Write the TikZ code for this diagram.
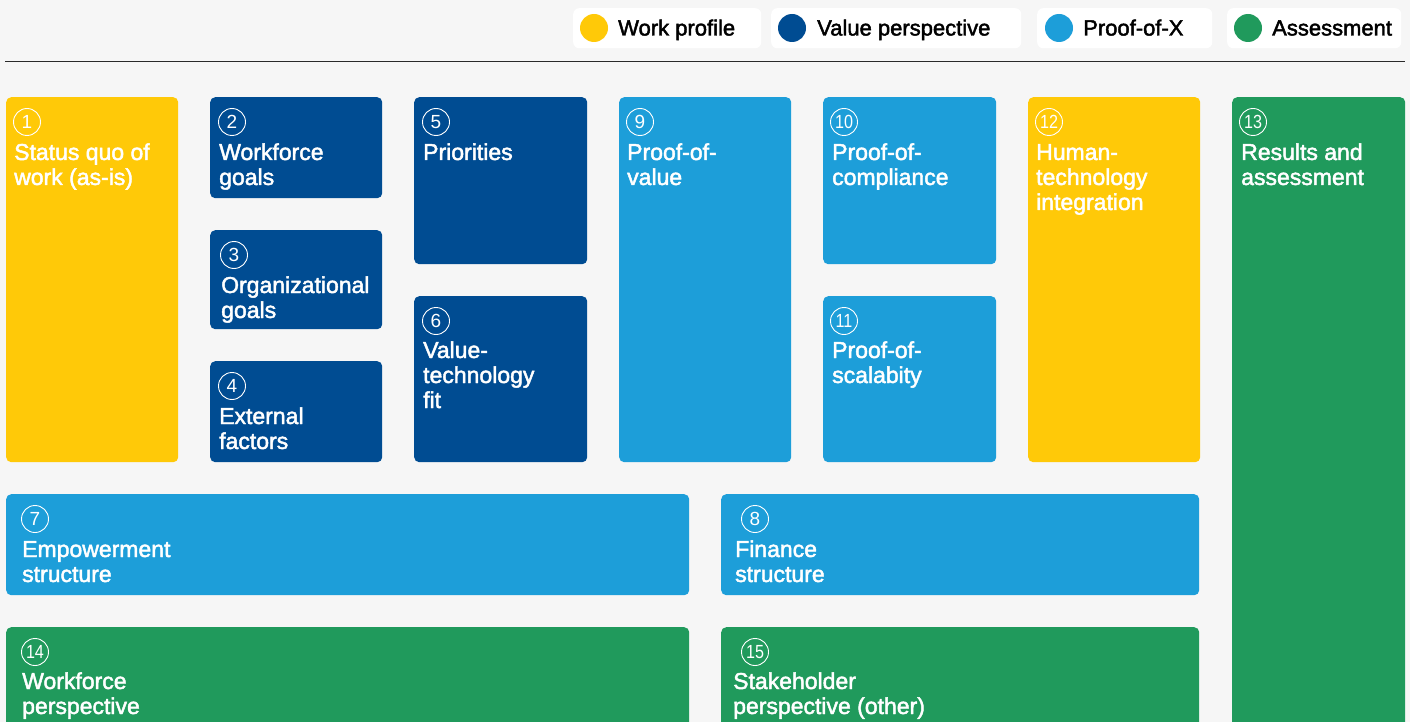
\documentclass[tikz,border=0pt]{standalone}
\usepackage{fontspec}
\setmainfont{Liberation Sans}
\newfontfamily\medfont[FakeBold=2]{Liberation Sans}
\definecolor{bgc}{HTML}{F6F6F6}
\definecolor{cY}{HTML}{FFC908}
\definecolor{cD}{HTML}{004C92}
\definecolor{cL}{HTML}{1D9ED9}
\definecolor{cG}{HTML}{209A5C}
\definecolor{lineC}{HTML}{2A2A2A}
\begin{document}
\begin{tikzpicture}[x=1pt,y=-1pt,
  box/.style={anchor=north west, rounded corners=5pt, inner sep=0pt, draw=none},
  num/.style={circle, draw=white, line width=0.9pt, minimum size=27pt, inner sep=0pt, text=white, font=\fontsize{19}{19}\selectfont},
  lbl/.style={anchor=base west, inner sep=0pt, text=white, font=\medfont\fontsize{23}{25}\selectfont},
  pill/.style={anchor=north west, fill=white, rounded corners=6pt, inner sep=0pt},
  dot/.style={circle, minimum size=28pt, inner sep=0pt},
  legtxt/.style={anchor=base west, inner sep=0pt, text=black, font=\medfont\fontsize{22}{24}\selectfont}]
\fill[bgc] (0,0) rectangle (1410,722);
\useasboundingbox (0,0) rectangle (1410,722);
\clip (0,0) rectangle (1410,722);
% legend
\node[pill, minimum width=188pt, minimum height=40pt] (p1) at (573,8) {};
\node[pill, minimum width=250pt, minimum height=40pt] (p2) at (771,8) {};
\node[pill, minimum width=175pt, minimum height=40pt] (p3) at (1037,8) {};
\node[pill, minimum width=174pt, minimum height=40pt] (p4) at (1227,8) {};
\node[dot, fill=cY] (d1) at (594,28) {};
\node[dot, fill=cD] (d2) at (792,28) {};
\node[dot, fill=cL] (d3) at (1059,28) {};
\node[dot, fill=cG] (d4) at (1248,28) {};
\node[legtxt] (l1) at (618,35.5) {Work profile};
\node[legtxt] (l2) at (817,35.5) {Value perspective};
\node[legtxt] (l3) at (1083,35.5) {Proof-of-X};
\node[legtxt] (l4) at (1272,35.5) {Assessment};
% rule
\coordinate (r1) at (5,61.5);
\coordinate (r2) at (1405,61.5);
\draw[lineC, line width=1.3pt] (r1) -- (r2);
% boxes
\node[box, fill=cY, minimum width=172pt, minimum height=365pt] (b1) at (6,97) {};
\node[box, fill=cD, minimum width=172pt, minimum height=101pt] (b2) at (210,97) {};
\node[box, fill=cD, minimum width=172pt, minimum height=99pt] (b3) at (210,230) {};
\node[box, fill=cD, minimum width=172pt, minimum height=101pt] (b4) at (210,361) {};
\node[box, fill=cD, minimum width=173pt, minimum height=167pt] (b5) at (414,97) {};
\node[box, fill=cD, minimum width=173pt, minimum height=166pt] (b6) at (414,296) {};
\node[box, fill=cL, minimum width=172pt, minimum height=365pt] (b9) at (619,97) {};
\node[box, fill=cL, minimum width=173pt, minimum height=167pt] (b10) at (823,97) {};
\node[box, fill=cL, minimum width=173pt, minimum height=166pt] (b11) at (823,296) {};
\node[box, fill=cY, minimum width=172pt, minimum height=365pt] (b12) at (1028,97) {};
\node[box, fill=cG, minimum width=173pt, minimum height=660pt] (b13) at (1232,97) {};
\node[box, fill=cL, minimum width=683pt, minimum height=101pt] (b7) at (6,494) {};
\node[box, fill=cL, minimum width=478pt, minimum height=101pt] (b8) at (721,494) {};
\node[box, fill=cG, minimum width=683pt, minimum height=140pt] (b14) at (6,627) {};
\node[box, fill=cG, minimum width=478pt, minimum height=140pt] (b15) at (721,627) {};
% numbers
\node[num] (n1) at (27,122) {1};
\node[num] (n2) at (232,122) {2};
\node[num] (n3) at (234,255) {3};
\node[num] (n4) at (232,386) {4};
\node[num] (n5) at (436,122) {5};
\node[num] (n6) at (436,321) {6};
\node[num] (n9) at (640,122) {9};
\node[num] (n10) at (844,122) {\scalebox{0.85}[1]{10}};
\node[num] (n11) at (844,321) {\scalebox{0.85}[1]{11}};
\node[num] (n12) at (1049,122) {\scalebox{0.85}[1]{12}};
\node[num] (n13) at (1253,122) {\scalebox{0.85}[1]{13}};
\node[num] (n7) at (35,519) {7};
\node[num] (n8) at (755,519) {8};
\node[num] (n14) at (35,652) {\scalebox{0.85}[1]{14}};
\node[num] (n15) at (755,652) {\scalebox{0.85}[1]{15}};
% labels
\node[lbl] (t1) at (14,160) {\vtop{\hbox{Status quo of}\hbox{work (as-is)}}};
\node[lbl] (t2) at (219,160) {\vtop{\hbox{Workforce}\hbox{goals}}};
\node[lbl] (t3) at (221,293) {\vtop{\hbox{Organizational}\hbox{goals}}};
\node[lbl] (t4) at (219,424) {\vtop{\hbox{External}\hbox{factors}}};
\node[lbl] (t5) at (423,160) {Priorities};
\node[lbl] (t6) at (423,358) {\vtop{\hbox{Value-}\hbox{technology}\hbox{fit}}};
\node[lbl] (t9) at (627,160) {\vtop{\hbox{Proof-of-}\hbox{value}}};
\node[lbl] (t10) at (832,160) {\vtop{\hbox{Proof-of-}\hbox{compliance}}};
\node[lbl] (t11) at (832,358) {\vtop{\hbox{Proof-of-}\hbox{scalabity}}};
\node[lbl] (t12) at (1036,160) {\vtop{\hbox{Human-}\hbox{technology}\hbox{integration}}};
\node[lbl] (t13) at (1241,160) {\vtop{\hbox{Results and}\hbox{assessment}}};
\node[lbl] (t7) at (22,557) {\vtop{\hbox{Empowerment}\hbox{structure}}};
\node[lbl] (t8) at (735,557) {\vtop{\hbox{Finance}\hbox{structure}}};
\node[lbl] (t14) at (22,689) {\vtop{\hbox{Workforce}\hbox{perspective}}};
\node[lbl] (t15) at (733,689) {\vtop{\hbox{Stakeholder}\hbox{perspective (other)}}};
\end{tikzpicture}
\end{document}
